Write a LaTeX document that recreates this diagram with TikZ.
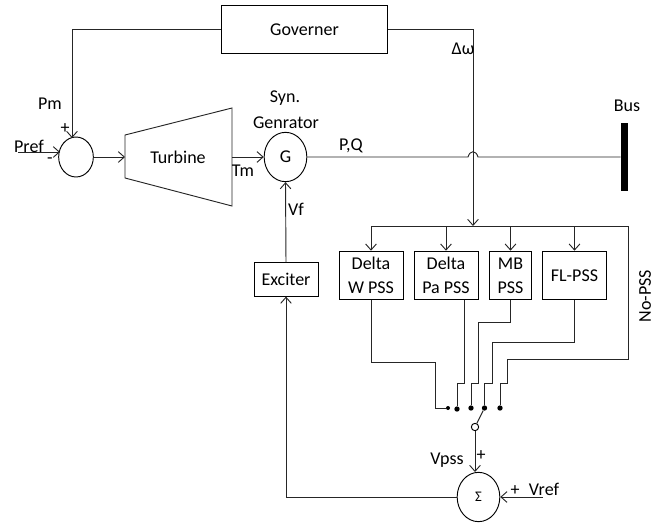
\documentclass[tikz,border=0pt]{standalone}
\usepackage{fontspec}
\setmainfont{Carlito}
\usetikzlibrary{arrows.meta,shapes.geometric}

\tikzset{
    wire/.style={line width=0.7pt, black!85},
    flow/.style={wire, -{Straight Barb[length=4.5pt,width=8pt]}},
    blockbox/.style={rectangle, draw, line width=0.7pt, align=center, inner sep=0pt},
    sumnode/.style={ellipse, draw, line width=0.7pt, inner sep=0pt, minimum width=32pt, minimum height=37pt},
    contact/.style={circle, fill=black, inner sep=0pt, minimum size=4pt},
    txt/.style={font=\fontsize{13.5}{18}\selectfont, inner sep=0pt, align=center},
}

\begin{document}
\begin{tikzpicture}[x=0.75pt, y=-0.75pt]
    \useasboundingbox (0,0) rectangle (672,525);

    % blocks
    \node[blockbox, txt, draw, minimum width=125pt, minimum height=36.5pt] (gov) at (304.5,29.5) {Governer};
    \node[blockbox, txt, draw, minimum width=48pt, minimum height=25pt] (exciter) at (286,279.5) {Exciter};
    \foreach \pos/\name/\wid/\lab in {{(371,275.5)/dw/48pt/Delta\\W PSS}, {(446,275.5)/dpa/48pt/Delta\\Pa PSS}, {(510.5,275.5)/mb/32pt/MB\\PSS}, {(574.5,275.5)/fl/48pt/FL-PSS}}
        \node[blockbox, txt, draw, minimum width=\wid, minimum height=36.5pt] (\name) at \pos {\lab};

    % sums and generator
    \node[sumnode, minimum width=26pt, minimum height=30pt] (sum1) at (76,157) {};
    \node[sumnode, txt, draw] (gen) at (285.5,157) {G};
    \node[sumnode, draw, inner sep=0pt, font=\fontsize{11}{13}\selectfont] (sum2) at (478.5,497) {Σ};

    % turbine
    \coordinate (tw) at (125,157);
    \coordinate (te) at (232,157);
    \draw[wire] (125,135) -- (232,108) -- (232,206) -- (125,178) -- cycle;
    \node[txt] (turbine) at (178,157) {Turbine};

    % bus
    \node[rectangle, fill=black, inner sep=0pt, minimum width=5.5pt, minimum height=51pt] (bus) at (624.5,157) {};

    % switch
    \foreach \pos/\name in {{(457,409)/c1}, {(471,408)/c2}, {(484.5,408)/c3}, {(500,408)/c4}}
        \node[contact] (\name) at \pos {};
    \node[contact, minimum size=3pt] (c0) at (448,408) {};
    \node[circle, draw, fill=white, line width=0.7pt, inner sep=0pt, minimum size=5.5pt] (pole) at (475,427) {};

    % helper points
    \coordinate (in1) at (72,138);
    \coordinate (pref) at (18,152);
    \coordinate (in1b) at (60,152);
    \coordinate (jl) at (468,157);
    \coordinate (jr) at (478,157);
    \coordinate (tap) at (473,226);
    \coordinate (vref) at (543,497);
    \coordinate (s2top) at (475,472);

    % forward path
    \draw[flow] (gov.west) -- (72,29.5) -- (in1);
    \draw[flow] (pref) -- (in1b);
    \draw[flow] (sum1.east) -- (tw);
    \draw[flow] (te) -- (gen.west);
    \draw[wire] (gen.east) -- (jl) .. controls (470,150) and (476,150) .. (jr) -- (bus.west);

    % feedback
    \draw[flow] (gov.east) -- (473,29.5) -- (tap);
    \draw[wire] (dw.north |- tap) -- (628,226) -- (628,359) -- (507,359) -- (507,383) -- (500,383) -- (c4);
    \foreach \name in {dw, dpa, mb, fl}
        \draw[flow] (\name.north |- tap) -- (\name.north);
    \draw[wire] (dw.south) -- (371,362) -- (435,362) -- (435,408) -- (c0);
    \draw[wire] (464,300) -- (464,383) -- (457,383) -- (c1);
    \draw[wire] (mb.south) -- (510.5,322) -- (478,322) -- (478,383) -- (471,383) -- (c2);
    \draw[wire] (fl.south) -- (574.5,342) -- (492,342) -- (492,383) -- (484.5,383) -- (c3);
    \draw[wire] (pole) -- (c3);
    \draw[flow] (pole) -- (s2top);
    \draw[flow] (vref) -- (sum2.east);
    \draw[flow] (sum2.west) -- (286,497) -- (exciter.south);
    \draw[flow] (exciter.north) -- (gen.south);

    % labels
    \node[txt] (lpm) at (50,104) {Pm};
    \node[txt] (lplus) at (65,129) {+};
    \node[txt] (lpref) at (29,146) {Pref};
    \node[txt] (lminus) at (50,161) {-};
    \node[txt] (ltm) at (243,171) {Tm};
    \node[txt] (lsyn) at (285,98) {Syn.};
    \node[txt] (lgen) at (286,123) {Genrator};
    \node[txt] (lvf) at (296,209) {Vf};
    \node[txt] (lpq) at (351,146) {P,Q};
    \node[txt] (lbus) at (627,106) {Bus};
    \node[txt] (ldw) at (463,49) {Δω};
    \node[txt, rotate=90] (lno) at (645,296) {No-PSS};
    \node[txt] (lvpss) at (447,460) {Vpss};
    \node[txt] (lvp) at (481,456) {+};
    \node[txt] (lvrp) at (515,491) {+};
    \node[txt] (lvref) at (544,489) {Vref};
\end{tikzpicture}
\end{document}
